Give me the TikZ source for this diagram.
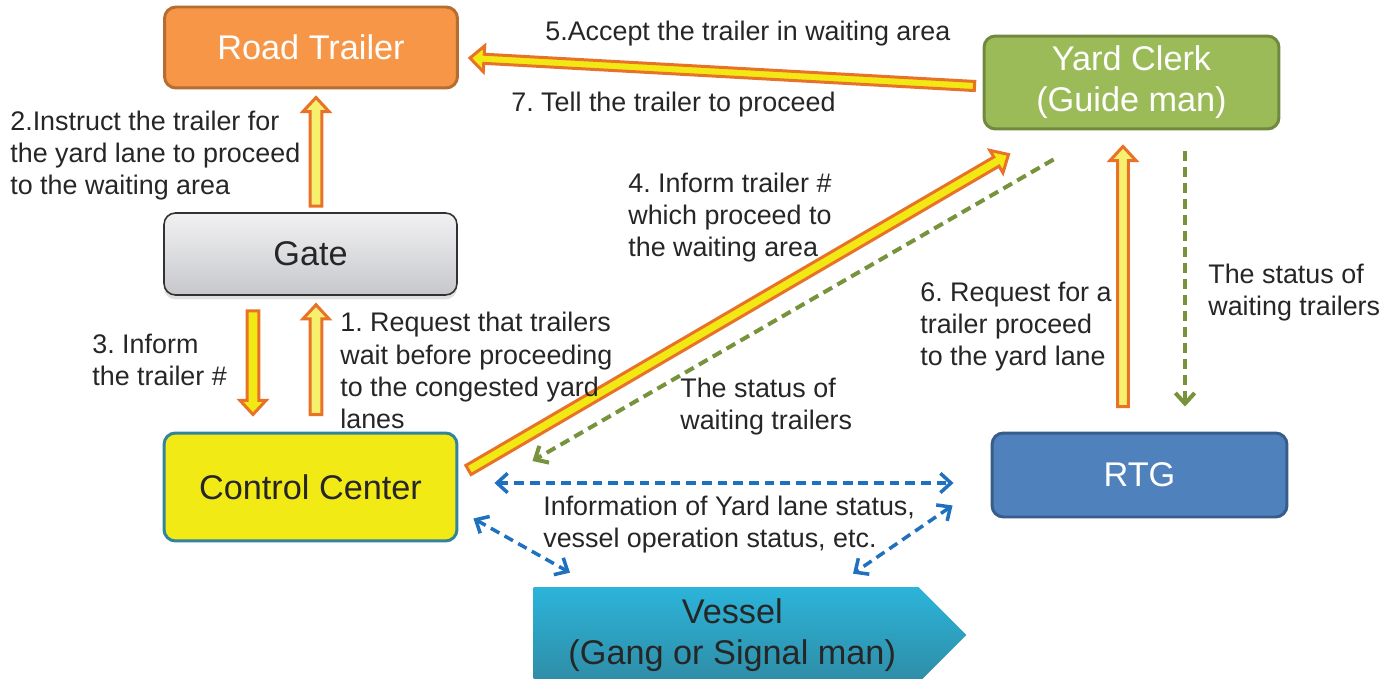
\documentclass[tikz,border=0pt]{standalone}
\usepackage{fontspec}
\setmainfont{Liberation Sans}
\usetikzlibrary{positioning, arrows.meta, calc, shapes.symbols, shadows}
\definecolor{trailerOrange}{RGB}{247,150,70}
\definecolor{trailerEdge}{RGB}{182,109,49}
\definecolor{gateTop}{RGB}{241,241,243}
\definecolor{gateBottom}{RGB}{199,200,204}
\definecolor{gateEdge}{RGB}{50,50,50}
\definecolor{centerYellow}{RGB}{242,234,20}
\definecolor{centerEdge}{RGB}{49,132,155}
\definecolor{clerkGreen}{RGB}{155,187,89}
\definecolor{clerkEdge}{RGB}{113,137,63}
\definecolor{rtgBlue}{RGB}{79,129,189}
\definecolor{rtgEdge}{RGB}{56,93,138}
\definecolor{vesselTop}{RGB}{44,180,218}
\definecolor{vesselBottom}{RGB}{47,140,165}
\definecolor{arrowOrange}{RGB}{232,114,40}
\definecolor{arrowYellow}{RGB}{242,232,20}
\definecolor{arrowLite}{RGB}{246,240,110}
\definecolor{statusGreen}{RGB}{119,147,60}
\definecolor{infoBlue}{RGB}{31,112,190}
\definecolor{textDark}{RGB}{38,38,38}

% block arrow: [fill]{shaft half width}{from}{to}
\newcommand\fatarrow[4][arrowYellow]{%
  \coordinate (fa-s) at (#3);
  \coordinate (fa-e) at (#4);
  \coordinate (fa-b) at ($(fa-e)!8pt!(fa-s)$);
  \filldraw[draw=arrowOrange, fill=#1, line width=1.7pt, line join=miter]
    ($(fa-s)!#2!90:(fa-e)$) -- ($(fa-b)!#2!90:(fa-e)$) -- ($(fa-b)!7.4pt!90:(fa-e)$) -- (fa-e)
    -- ($(fa-b)!7.4pt!-90:(fa-e)$) -- ($(fa-b)!#2!-90:(fa-e)$) -- ($(fa-s)!#2!-90:(fa-e)$) -- cycle;
}

\begin{document}
\frenchspacing
\begin{tikzpicture}[
  x=0.02cm, y=-0.02cm,
  unitbox/.style={rounded corners=6.5pt, line width=1.7pt, minimum width=5.86cm,
    font=\fontsize{19.5}{23.4}\selectfont, align=center, inner sep=0pt},
  lbl/.style={font=\fontsize{15.3}{18.3}\selectfont, align=left, anchor=west,
    inner sep=0pt, text=textDark},
  status/.style={statusGreen, line width=2.3pt, dash pattern=on 5.7pt off 3.4pt,
    -{Straight Barb[length=6pt,width=11pt]}},
  info/.style={infoBlue, line width=2pt, dash pattern=on 5.5pt off 3.4pt,
    {Straight Barb[length=6pt,width=11pt]}-{Straight Barb[length=6pt,width=11pt]}},
]
  \useasboundingbox (0,0) rectangle (1397,679);

  % actors
  \node[unitbox, fill=trailerOrange, draw=trailerEdge, text=white, minimum height=1.62cm]
    (road) at (311,47.5) {Road Trailer};
  \node[unitbox, top color=gateTop, bottom color=gateBottom, draw=gateEdge, line width=0.9pt,
    text=textDark, minimum height=1.64cm,
    drop shadow={opacity=0.25, shadow xshift=0pt, shadow yshift=-2.5pt}]
    (gate) at (310.5,254) {Gate};
  \node[unitbox, fill=centerYellow, draw=centerEdge, text=textDark, minimum height=2.16cm]
    (cc) at (310.5,487) {Control Center};
  \node[unitbox, fill=clerkGreen, draw=clerkEdge, text=white, minimum width=5.9cm,
    minimum height=1.86cm] (yc) at (1131.5,82.5) {Yard Clerk\\(Guide man)};
  \node[unitbox, fill=rtgBlue, draw=rtgEdge, text=white, minimum width=5.9cm,
    minimum height=1.68cm] (rtg) at (1139.5,475) {RTG};
  \node[shape=signal, signal to=east, signal pointer angle=90, top color=vesselTop,
    bottom color=vesselBottom, text=textDark, minimum width=8.66cm, minimum height=1.92cm,
    font=\fontsize{19.5}{23.4}\selectfont, align=center, inner sep=0pt]
    (vessel) at (726,635) {\hspace*{0.25cm}Vessel\\\hspace*{0.25cm}(Gang or Signal man)};

  % instructions
  \fatarrow[arrowLite]{3.4pt}{$(gate.north)+(5.5,-6)$}{$(road.south)+(5,8)$}
  \fatarrow{3.4pt}{$(gate.south)+(-57.5,15)$}{$(cc.north)+(-57.5,-17)$}
  \fatarrow[arrowLite]{3.4pt}{$(cc.north)+(5.5,-17)$}{$(gate.south)+(5.5,9)$}
  \fatarrow{3pt}{$(cc.east)+(10,-17)$}{$(yc.south west)+(26,24)$}
  \fatarrow{2.6pt}{$(yc.west)+(-8,3.5)$}{$(road.east)+(11,10.5)$}
  \fatarrow[arrowLite]{3pt}{$(rtg.north)+(-16.5,-25)$}{$(yc.south)+(-8.5,16)$}

  % status
  \draw[status] ($(yc.south west)+(71,29)$) -- ($(cc.east)+(74,-26)$);
  \draw[status] ($(yc.south)+(53.5,21)$) -- ($(rtg.north)+(45.5,-25)$);

  % information
  \draw[info] ($(cc.east)+(36,-4)$) -- ($(rtg.west)+(-37,8)$);
  \draw[info] ($(cc.south east)+(15,-24)$) -- ($(vessel.north)+(-156,-14)$);
  \draw[info] ($(rtg.south west)+(-38,-13)$) -- ($(vessel.north)+(127,-13)$);

  % labels
  \node[lbl] (l5) at (545,33.5) {5.Accept the trailer in waiting area};
  \node[lbl] (l7) at (511,104.5) {7. Tell the trailer to proceed};
  \node[lbl] (l2) at (10,155.5) {2.Instruct the trailer for\\the yard lane to proceed\\to the waiting area};
  \node[lbl] (l4) at (628,217.5) {4. Inform trailer \#\\which proceed to\\the waiting area};
  \node[lbl] (l3) at (92,359.5) {3. Inform\\the trailer \#};
  \node[lbl] (l1) at (340,370.5) {1. Request that trailers\\wait before proceeding\\to the congested yard\\lanes};
  \node[lbl] (ls1) at (680,406.5) {The status of\\waiting trailers};
  \node[lbl] (l6) at (920,326.5) {6. Request for a\\trailer proceed\\to the yard lane};
  \node[lbl] (ls2) at (1208,292.5) {The status of\\waiting trailers};
  \node[lbl] (li) at (543,524.5) {Information of Yard lane status,\\vessel operation status, etc.};
\end{tikzpicture}
\end{document}
